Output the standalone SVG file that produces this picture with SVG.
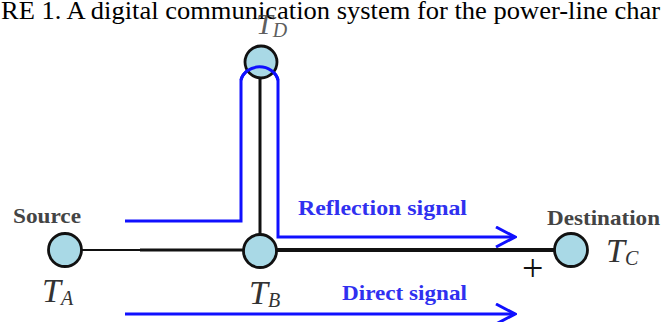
<svg xmlns="http://www.w3.org/2000/svg" width="662" height="322" viewBox="0 0 662 322">
<style>
.node{fill:#a9d9e6;stroke:#111;stroke-width:2.8}
.wire{stroke:#111;fill:none}
.sig{stroke:#1010ff;stroke-width:3;fill:none}
.lbl{font-family:"Liberation Serif","Times New Roman",serif;fill:#444;font-weight:bold}
.slbl{font-family:"Liberation Serif","Times New Roman",serif;fill:#3030f0;font-weight:bold}
.tv{font-family:"Liberation Serif","Times New Roman",serif;font-style:italic;fill:#333}
.title{font-family:"Liberation Serif","Times New Roman",serif;fill:#000}
</style>
<defs>
<marker id="arr" viewBox="0 0 22 22" refX="20" refY="11" markerWidth="22" markerHeight="22" markerUnits="userSpaceOnUse" orient="auto">
<path d="M1,1 L20,11 L1,21" fill="none" stroke="#1010ff" stroke-width="3"/>
</marker>
</defs>
<text class="title" x="1" y="19" font-size="25.5" textLength="659" lengthAdjust="spacingAndGlyphs">RE 1. A digital communication system for the power-line char</text>
<g id="connectors">
<line class="wire" x1="82" y1="250" x2="140" y2="250" stroke-width="2.2"/>
<line class="wire" x1="140" y1="250" x2="244" y2="250" stroke-width="3"/>
<line class="wire" x1="277" y1="250" x2="555" y2="250" stroke-width="4"/>
<line class="wire" x1="260" y1="78" x2="260" y2="234" stroke-width="3"/>
<path class="sig" d="M125,221 H241 V80 A19 17 0 0 1 278 80 V237 H515" marker-end="url(#arr)"/>
<line class="sig" x1="125" y1="314" x2="515" y2="314" marker-end="url(#arr)"/>
</g>
<g id="TD">
<circle class="node" cx="261" cy="62" r="16"/>
<text class="tv" x="256" y="34" font-size="30" fill-opacity="0.8">T<tspan font-size="20" dy="3">D</tspan></text>
</g>
<path class="sig" d="M241,80 A19 17 0 0 1 278 80"/>
<g id="TA">
<circle class="node" cx="65" cy="250" r="16.5"/>
<text class="lbl" x="13" y="223" font-size="21" textLength="68" lengthAdjust="spacingAndGlyphs">Source</text>
<text class="tv" x="42" y="302" font-size="34">T<tspan font-size="20" dy="3">A</tspan></text>
</g>
<g id="TB">
<circle class="node" cx="260" cy="251" r="16.5"/>
<text class="tv" x="249" y="304" font-size="34">T<tspan font-size="20" dy="3">B</tspan></text>
</g>
<g id="TC">
<circle class="node" cx="571" cy="250" r="16.5"/>
<text class="lbl" x="547" y="225" font-size="21" textLength="113" lengthAdjust="spacingAndGlyphs">Destination</text>
<text class="tv" x="606" y="262" font-size="34">T<tspan font-size="20" dy="3">C</tspan></text>
<text x="522" y="281" font-family="Liberation Serif,serif" font-size="38" fill="#111">+</text>
</g>
<g id="labels">
<text class="slbl" x="298" y="215" font-size="21" textLength="169" lengthAdjust="spacingAndGlyphs">Reflection signal</text>
<text class="slbl" x="342" y="300" font-size="21" textLength="125" lengthAdjust="spacingAndGlyphs">Direct signal</text>
</g>
</svg>
